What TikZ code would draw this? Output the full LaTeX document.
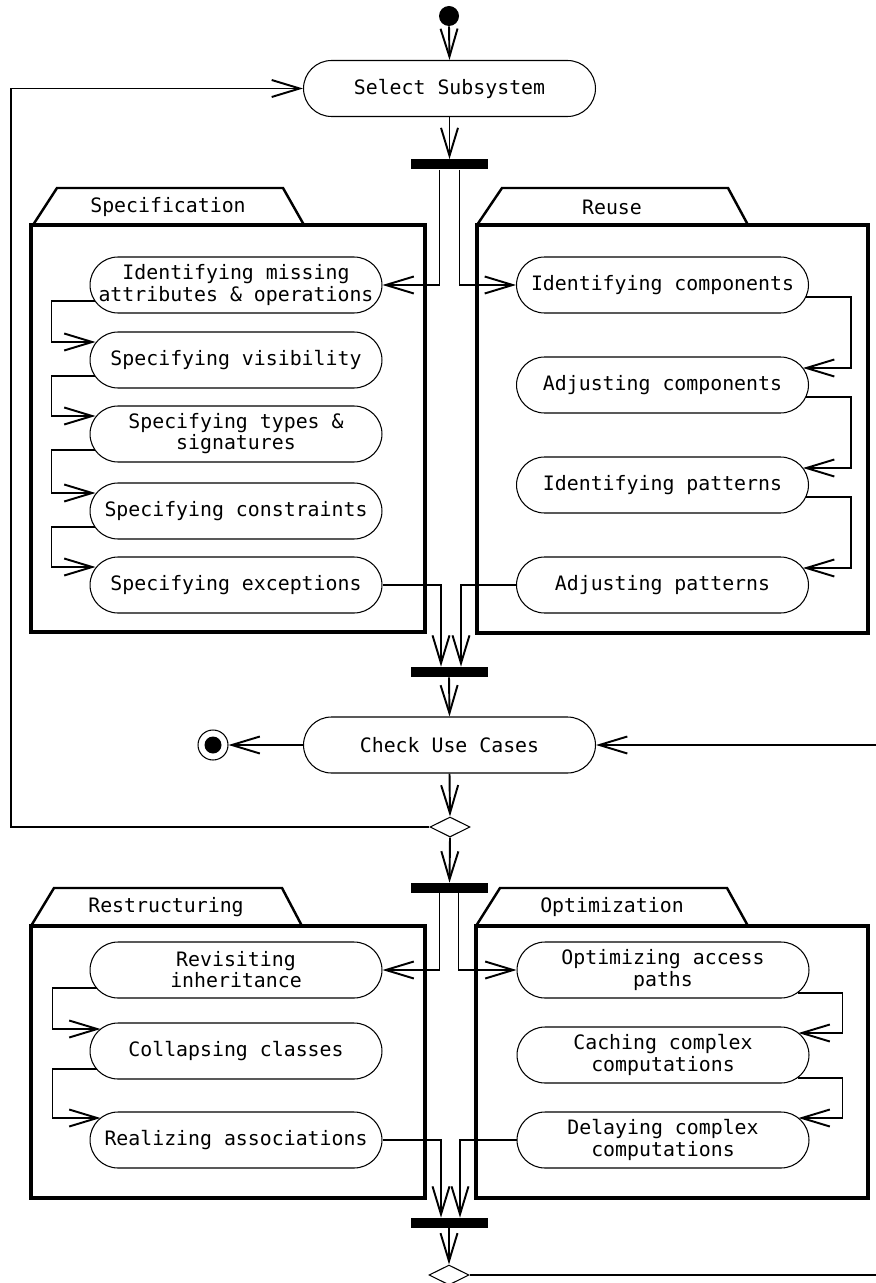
\documentclass[tikz,border=0pt]{standalone}
\usepackage{fontspec}
\newfontfamily\umlfont{DejaVu Sans Mono}
\usetikzlibrary{arrows.meta,calc,shapes.geometric}

\begin{document}
\begin{tikzpicture}[x=0.02cm,y=-0.02cm,
  font=\umlfont\fontsize{11.3}{10.4}\selectfont,
  activity/.style={draw,line width=0.6pt,rounded corners=0.56cm,minimum width=5.84cm,minimum height=1.12cm,align=center,inner sep=0pt},
  bar/.style={fill=black,minimum width=1.54cm,minimum height=0.2cm,inner sep=0pt},
  choice/.style={draw,diamond,aspect=2,line width=0.6pt,minimum width=0.8cm,minimum height=0.4cm,inner sep=0pt},
  initial/.style={circle,fill=black,minimum size=0.4cm,inner sep=0pt},
  final/.style={circle,draw,line width=0.6pt,minimum size=0.6cm,inner sep=0pt,
    path picture={\fill (path picture bounding box.center) circle (0.17cm);}},
  flow/.style={line width=1.1pt,-{Straight Barb[length=0.56cm,width=0.34cm]}},
  frame/.style={line width=1.9pt},
  tab/.style={line width=1.4pt}]
\useasboundingbox (0,0) rectangle (875,1283);

% Packages
\draw[tab] (33,225) -- (57,188) -- (283,188) -- (304,225);
\draw[frame] (31,225) rectangle (425,632);
\node (specLbl) at (168,207) {Specification};
\draw[tab] (477,225) -- (502,188) -- (728,188) -- (748,225);
\draw[frame] (477,225) rectangle (868,633);
\node (reuseLbl) at (612,207) {Reuse};
\draw[tab] (31,926) -- (54,888) -- (282,888) -- (302,926);
\draw[frame] (31,926) rectangle (425,1198);
\node (restrLbl) at (166,907) {Restructuring};
\draw[tab] (476,926) -- (500,888) -- (727,888) -- (748,926);
\draw[frame] (476,926) rectangle (868,1198);
\node (optimLbl) at (612,907) {Optimization};

% Control nodes
\node[initial] (start) at (449,16) {};
\node[activity] (sel) at (449.5,88.5) {Select Subsystem};
\node[bar] (fork1) at (449.5,164.5) {};
\node[bar] (fork2) at (449,672) {};
\node[activity] (chk) at (449.5,745) {Check Use Cases};
\node[final] (stop) at (213,745) {};
\node[choice] (dec1) at (450,827) {};
\node[bar] (fork3) at (449.5,888) {};
\node[bar] (fork4) at (449,1223) {};
\node[choice] (dec2) at (449,1275) {};

% Activities
\node[activity] (spec1) at (236,285) {Identifying missing\\attributes \& operations};
\node[activity] (spec2) at (236,360) {Specifying visibility};
\node[activity] (spec3) at (236,434) {Specifying types \&\\signatures};
\node[activity] (spec4) at (236,511) {Specifying constraints};
\node[activity] (spec5) at (236,585) {Specifying exceptions};
\node[activity] (reuse1) at (662.5,285) {Identifying components};
\node[activity] (reuse2) at (662.5,385) {Adjusting components};
\node[activity] (reuse3) at (662.5,485) {Identifying patterns};
\node[activity] (reuse4) at (662.5,585) {Adjusting patterns};
\node[activity] (restr1) at (236,970) {Revisiting\\inheritance};
\node[activity] (restr2) at (236,1051) {Collapsing classes};
\node[activity] (restr3) at (236,1140) {Realizing associations};
\node[activity] (optim1) at (663,970) {Optimizing access\\paths};
\node[activity] (optim2) at (663,1055) {Caching complex\\computations};
\node[activity] (optim3) at (663,1140) {Delaying complex\\computations};

% Flows
\draw[flow] (start.south) -- (sel.north);
\draw[flow] (sel.south) -- (fork1.north);
\draw[flow] ($(fork1.south)+(-10,0)$) |- (spec1.east);
\draw[flow] ($(fork1.south)+(10,0)$) |- (reuse1.west);
\foreach \a/\b in {spec1/spec2,spec2/spec3,spec3/spec4,spec4/spec5}
  \draw[flow] ($(\a.west)+(5,16)$) -- ++(-43,0) |- ($(\b.west)+(6,-18)$);
\foreach \a/\b in {reuse1/reuse2,reuse2/reuse3,reuse3/reuse4}
  \draw[flow] ($(\a.east)+(-3,12)$) -- ++(45,0) |- ($(\b.east)+(-6,-17)$);
\draw[flow] (spec5.east) -| ($(fork2.north)+(-8,0)$);
\draw[flow] (reuse4.west) -| ($(fork2.north)+(12,0)$);
\draw[flow] (fork2.south) -- (chk.north);
\draw[flow] (chk.west) -- (stop.east);
\draw[flow] (chk.south) -- (dec1.north);
\coordinate (loopL) at (11,827);
\draw[flow] (dec1.west) -- (loopL) |- (sel.west);
\draw[flow] (dec1.south) -- (fork3.north);
\draw[flow] ($(fork3.south)+(-10,0)$) |- (restr1.east);
\draw[flow] ($(fork3.south)+(9,0)$) |- (optim1.west);
\foreach \a/\b in {restr1/restr2,restr2/restr3}
  \draw[flow] ($(\a.west)+(7,18)$) -- ++(-44,0) |- ($(\b.west)+(11,-22)$);
\foreach \a/\b in {optim1/optim2,optim2/optim3}
  \draw[flow] ($(\a.east)+(-12,23)$) -- ++(45,0) |- ($(\b.east)+(-11,-22)$);
\draw[flow] (restr3.east) -| ($(fork4.north)+(-8,0)$);
\draw[flow] (optim3.west) -| ($(fork4.north)+(11,0)$);
\draw[flow] (fork4.south) -- (dec2.north);
\coordinate (loopR) at (880,1275);
\draw[flow] (dec2.east) -- (loopR) |- (chk.east);
\end{tikzpicture}
\end{document}
